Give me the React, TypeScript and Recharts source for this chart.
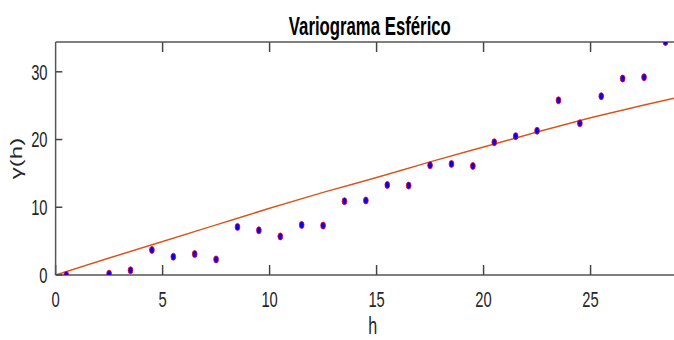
import React from 'react';
import {
  ComposedChart,
  Line,
  ReferenceLine,
  Scatter,
  XAxis,
  YAxis,
} from 'recharts';

// experimental variogram (lag h, semivariance)
const lags = [
  0.5, 2.5, 3.5, 4.5, 5.5, 6.5, 7.5, 8.5, 9.5, 10.5, 11.5, 12.5, 13.5, 14.5,
  15.5, 16.5, 17.5, 18.5, 19.5, 20.5, 21.5, 22.5, 23.5, 24.5, 25.5, 26.5,
  27.5, 28.5,
];
const gammaValues = [
  0, 0.2, 0.7, 3.7, 2.7, 3.1, 2.3, 7.1, 6.6, 5.7, 7.4, 7.3, 10.9, 11.0, 13.3,
  13.2, 16.2, 16.4, 16.1, 19.6, 20.5, 21.3, 25.8, 22.4, 26.4, 29.0, 29.2, 34.4,
];

// fitted spherical model
const modelLags = [0, 2.5, 5, 7.5, 10, 12.5, 15, 17.5, 20, 22.5, 25, 27.5, 28.9];
const modelValues = [0, 2.5, 4.95, 7.4, 9.85, 12.2, 14.4, 16.7, 18.9, 21.1, 23.2, 25.1, 26.1];

const xTicks = [0, 5, 10, 15, 20, 25];
const yTicks = [0, 10, 20, 30];

const X_DOMAIN: [number, number] = [0, 28.9];
const Y_DOMAIN: [number, number] = [0, 34.4];
// length of the inward tick marks on the top edge, in y units (~10px)
const TOP_TICK = 1.48;

// the reference image is squeezed horizontally
const SQUEEZE = 0.67;
const WIDTH = 1006;
const HEIGHT = 340;

const FONT = '"Liberation Sans", Arial, Helvetica, sans-serif';
const TEXT = '#262626';
const AXIS = '#555555';
const TICK = '#444444';

const points = lags.map((h, i) => ({ h, g: gammaValues[i] }));
const model = modelLags.map((h, i) => ({ h, g: modelValues[i] }));

const Marker = (props: any) => {
  const { cx, cy } = props;
  if (cx == null || cy == null) return null;
  return (
    <circle cx={cx} cy={cy} r={3.5} fill='#0000ff' stroke='#ff0000' strokeWidth={1} />
  );
};

export default function App() {
  return (
    <div
      style={{
        position: 'absolute',
        left: 0,
        top: 0,
        width: 674,
        height: HEIGHT,
        overflow: 'hidden',
        background: '#fff',
      }}
    >
      <div
        style={{
          position: 'relative',
          width: WIDTH,
          height: HEIGHT,
          transform: `scaleX(${SQUEEZE})`,
          transformOrigin: '0 0',
          fontFamily: FONT,
        }}
      >
        <div
          style={{
            position: 'absolute',
            left: 252,
            width: 600,
            top: 14,
            textAlign: 'center',
            fontSize: 25,
            lineHeight: '25px',
            fontWeight: 'bold',
            color: '#000',
            zIndex: 2,
          }}
        >
          Variograma Esférico
        </div>
        <ComposedChart
          width={WIDTH}
          height={HEIGHT}
          margin={{ top: 0, right: 0, bottom: 0, left: 0 }}
        >
          <XAxis
            xAxisId='top'
            orientation='top'
            type='number'
            dataKey='h'
            domain={X_DOMAIN}
            ticks={xTicks}
            allowDataOverflow
            height={42}
            tick={false}
            tickLine={false}
            axisLine={{ stroke: AXIS, strokeWidth: 1.5 }}
          />
          <XAxis
            xAxisId='x'
            type='number'
            dataKey='h'
            domain={X_DOMAIN}
            ticks={xTicks}
            allowDataOverflow
            height={65}
            tickSize={-10}
            tickMargin={26}
            tick={{ fontSize: 22, fill: TEXT, fontFamily: FONT }}
            axisLine={{ stroke: AXIS, strokeWidth: 1.5 }}
            tickLine={{ stroke: TICK, strokeWidth: 2.2 }}
            label={{
              value: 'h',
              position: 'insideBottom',
              offset: 6,
              dx: 12,
              fontSize: 24,
              fill: TEXT,
              fontFamily: FONT,
            }}
          />
          <YAxis
            type='number'
            dataKey='g'
            domain={Y_DOMAIN}
            ticks={yTicks}
            allowDataOverflow
            width={83}
            tickSize={-10}
            tickMargin={22}
            tick={{ fontSize: 22, fill: TEXT, fontFamily: FONT }}
            axisLine={{ stroke: AXIS, strokeWidth: 2.2 }}
            tickLine={{ stroke: TICK, strokeWidth: 1.5 }}
            label={{
              value: 'γ(h)',
              angle: -90,
              position: 'insideLeft',
              offset: 25,
              fontSize: 24,
              fill: TEXT,
              fontFamily: FONT,
              style: { textAnchor: 'middle' },
            }}
          />
          {xTicks.slice(1).map(t => (
            <ReferenceLine
              key={t}
              xAxisId='x'
              segment={[
                { x: t, y: Y_DOMAIN[1] },
                { x: t, y: Y_DOMAIN[1] - TOP_TICK },
              ]}
              stroke={TICK}
              strokeWidth={2.2}
              ifOverflow='visible'
            />
          ))}
          {/* model curve uses the top axis (same domain) */}
          <Line
            xAxisId='top'
            data={model}
            dataKey='g'
            type='monotone'
            stroke='#d95319'
            strokeWidth={1.5}
            dot={false}
            activeDot={false}
            isAnimationActive={false}
          />
          <Scatter
            xAxisId='x'
            data={points}
            dataKey='g'
            shape={<Marker />}
            isAnimationActive={false}
          />
        </ComposedChart>
      </div>
    </div>
  );
}
